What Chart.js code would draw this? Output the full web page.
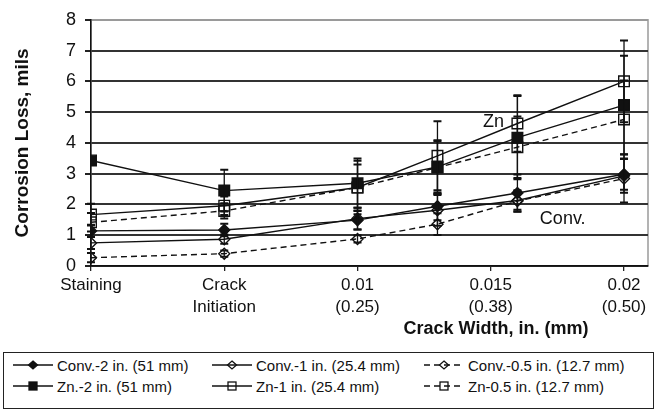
<!DOCTYPE html>
<html lang="en">
<head>
<meta charset="UTF-8">
<title>Corrosion Loss vs Crack Width</title>
<script src="https://cdn.jsdelivr.net/npm/chart.js"></script>
<style>
  body { margin: 0; background: #fff; font-family: "Liberation Sans", Arial, sans-serif; }
  #wrap { position: relative; width: 660px; height: 415px; }
  #legend {
    position: absolute; left: 3px; top: 352px; width: 651px; height: 57px;
    border: 1px solid #222; box-sizing: border-box;
  }
  .item {
    position: absolute; height: 20px; display: flex; align-items: center;
    font-size: 15px; color: #111; white-space: nowrap;
  }
  .item svg { margin-right: 4px; }
</style>
</head>
<body>
<div id="wrap">
  <canvas id="chart" width="660" height="345"></canvas>
  <div id="legend"></div>
</div>
<script>
  // x positions (crack width, in.) - staining and crack initiation sit at 0 and 0.005
  const xValues = [0, 0.005, 0.01, 0.013, 0.016, 0.02];
  const xTickLabels = [['Staining'], ['Crack', 'Initiation'], ['0.01', '(0.25)'], ['0.015', '(0.38)'], ['0.02', '(0.50)']];

  const seriesNames = [
    'Conv.-2 in. (51 mm)', 'Conv.-1 in. (25.4 mm)', 'Conv.-0.5 in. (12.7 mm)',
    'Zn.-2 in. (51 mm)', 'Zn-1 in. (25.4 mm)', 'Zn-0.5 in. (12.7 mm)'
  ];

  // corrosion loss, mils
  const conv2 = [1.14, 1.17, 1.49, 1.94, 2.37, 2.98];
  const conv1 = [0.75, 0.87, 1.54, 1.81, 2.13, 2.93];
  const conv05 = [0.27, 0.40, 0.88, 1.36, 2.11, 2.84];
  const zn2 = [3.43, 2.45, 2.69, 3.22, 4.17, 5.23];
  const zn1 = [1.67, 1.96, 2.55, 3.58, 4.63, 6.00];
  const zn05 = [1.42, 1.79, 2.55, 3.20, 3.86, 4.76];

  // error bars (+/-)
  const conv2Err = [0.2, 0.2, 0.3, 0.45, 0.6, 0.5];
  const conv1Err = [0.2, 0.15, 0.35, 0.5, 0.3, 0.55];
  const conv05Err = [0.15, 0.1, 0.12, 0.35, 0.35, 0.78];
  const zn2Err = [0, 0.68, 0.8, 0.87, 1.35, 1.6];
  const zn1Err = [0.35, 0.3, 0.87, 1.12, 0.92, 1.33];
  const zn05Err = [0.3, 0.25, 0.75, 0.85, 1.0, 1.27];

  const annotations = [
    { text: 'Zn', x: 0.0151, y: 4.67 },
    { text: 'Conv.', x: 0.0177, y: 1.54 }
  ];

  const values = [conv2, conv1, conv05, zn2, zn1, zn05];
  const errors = [conv2Err, conv1Err, conv05Err, zn2Err, zn1Err, zn05Err];
  const styles = [
    { shape: 'rectRot', filled: true, dashed: false },
    { shape: 'rectRot', filled: false, dashed: false },
    { shape: 'rectRot', filled: false, dashed: true },
    { shape: 'rect', filled: true, dashed: false },
    { shape: 'rect', filled: false, dashed: false },
    { shape: 'rect', filled: false, dashed: true }
  ];

  const FONT = "'Liberation Sans', Arial, sans-serif";
  Chart.defaults.font.family = FONT;
  Chart.defaults.color = '#111';

  const datasets = values.map((vals, i) => {
    const st = styles[i];
    return {
      label: seriesNames[i],
      data: vals.map((v, j) => ({ x: xValues[j], y: v })),
      errors: errors[i],
      borderColor: '#111',
      borderWidth: 1.4,
      borderDash: st.dashed ? [6, 4] : [],
      pointStyle: st.shape,
      pointRadius: st.shape === 'rect' ? 7.5 : 5.5,
      pointBorderWidth: 1.4,
      pointBorderColor: '#111',
      pointBackgroundColor: st.filled ? '#111' : 'rgba(0,0,0,0)',
      tension: 0
    };
  });

  const framePlugin = {
    id: 'frame',
    beforeDraw(chart) {
      const { ctx, chartArea: a } = chart;
      ctx.save();
      ctx.strokeStyle = '#9a9a9a';
      ctx.lineWidth = 1.5;
      ctx.strokeRect(a.left, a.top, a.right - a.left, a.bottom - a.top);
      ctx.restore();
    }
  };

  const errorBars = {
    id: 'errorBars',
    afterDatasetsDraw(chart) {
      const { ctx, scales: { x, y } } = chart;
      ctx.save();
      ctx.strokeStyle = '#111';
      chart.data.datasets.forEach(ds => {
        ds.data.forEach((p, i) => {
          const e = ds.errors[i];
          if (!e) return;
          const px = x.getPixelForValue(p.x);
          const top = y.getPixelForValue(p.y + e);
          const bot = y.getPixelForValue(p.y - e);
          ctx.lineWidth = 1.3;
          ctx.beginPath();
          ctx.moveTo(px, top);
          ctx.lineTo(px, bot);
          ctx.stroke();
          ctx.lineWidth = 2;
          ctx.beginPath();
          ctx.moveTo(px - 4, top); ctx.lineTo(px + 4, top);
          ctx.moveTo(px - 4, bot); ctx.lineTo(px + 4, bot);
          ctx.stroke();
        });
      });
      ctx.restore();
    }
  };

  const textPlugin = {
    id: 'extraText',
    afterDraw(chart) {
      const { ctx, scales: { x, y } } = chart;
      ctx.save();
      ctx.fillStyle = '#111';
      ctx.textAlign = 'center';
      ctx.textBaseline = 'middle';
      ctx.font = '18px ' + FONT;
      annotations.forEach(a => {
        ctx.fillText(a.text, x.getPixelForValue(a.x), y.getPixelForValue(a.y));
      });
      ctx.font = 'bold 18px ' + FONT;
      ctx.fillText('Crack Width, in. (mm)', 496, 329);
      ctx.restore();
    }
  };

  new Chart(document.getElementById('chart'), {
    type: 'line',
    data: { datasets },
    plugins: [framePlugin, errorBars, textPlugin],
    options: {
      responsive: false,
      animation: false,
      layout: { padding: { top: 16, right: 12, left: 0, bottom: 0 } },
      plugins: { legend: { display: false }, tooltip: { enabled: false } },
      scales: {
        x: {
          type: 'linear',
          min: 0,
          max: 0.0209,
          afterFit(scale) { scale.height = 79; },
          ticks: {
            stepSize: 0.005,
            includeBounds: false,
            autoSkip: false,
            maxRotation: 0,
            padding: 4,
            font: { size: 17, lineHeight: 1.25 },
            callback: (v, i) => xTickLabels[i] || ''
          },
          grid: { drawOnChartArea: false, tickLength: 5, tickColor: '#222', lineWidth: 1.3 },
          border: { color: '#111', width: 1.5 }
        },
        y: {
          min: 0,
          max: 8,
          afterFit(scale) { scale.width = 91; },
          ticks: { stepSize: 1, padding: 9, font: { size: 18 } },
          grid: {
            color: c => c.tick && c.tick.value === 8 ? '#9a9a9a' : '#333',
            lineWidth: 2,
            tickLength: 6,
            tickColor: '#222'
          },
          border: { color: '#111', width: 1.5 },
          title: {
            display: true,
            text: 'Corrosion Loss, mils',
            font: { size: 19, weight: 'bold' },
            padding: { top: 11, bottom: 0 }
          }
        }
      }
    }
  });

  // legend box: two rows of three
  const legendEl = document.getElementById('legend');
  const colLeft = [9, 208, 420];
  const rowTop = [2, 23];
  function sampleSvg(st) {
    const dash = st.dashed ? ' stroke-dasharray="6,4"' : '';
    const fill = st.filled ? '#111' : 'none';
    let mark;
    if (st.shape === 'rect') {
      mark = '<rect x="16" y="5" width="8" height="8" fill="' + fill + '" stroke="#111" stroke-width="1.3"/>';
    } else {
      mark = '<polygon points="20,5 24.5,9 20,13 15.5,9" fill="' + fill + '" stroke="#111" stroke-width="1.3"/>';
    }
    return '<svg width="40" height="18"><line x1="0" y1="9" x2="40" y2="9" stroke="#111" stroke-width="1.4"' + dash + '/>' + mark + '</svg>';
  }
  seriesNames.forEach((name, i) => {
    const div = document.createElement('div');
    div.className = 'item';
    div.style.left = colLeft[i % 3] + 'px';
    div.style.top = rowTop[Math.floor(i / 3)] + 'px';
    div.innerHTML = sampleSvg(styles[i]) + '<span></span>';
    div.querySelector('span').textContent = name;
    legendEl.appendChild(div);
  });
</script>
</body>
</html>
